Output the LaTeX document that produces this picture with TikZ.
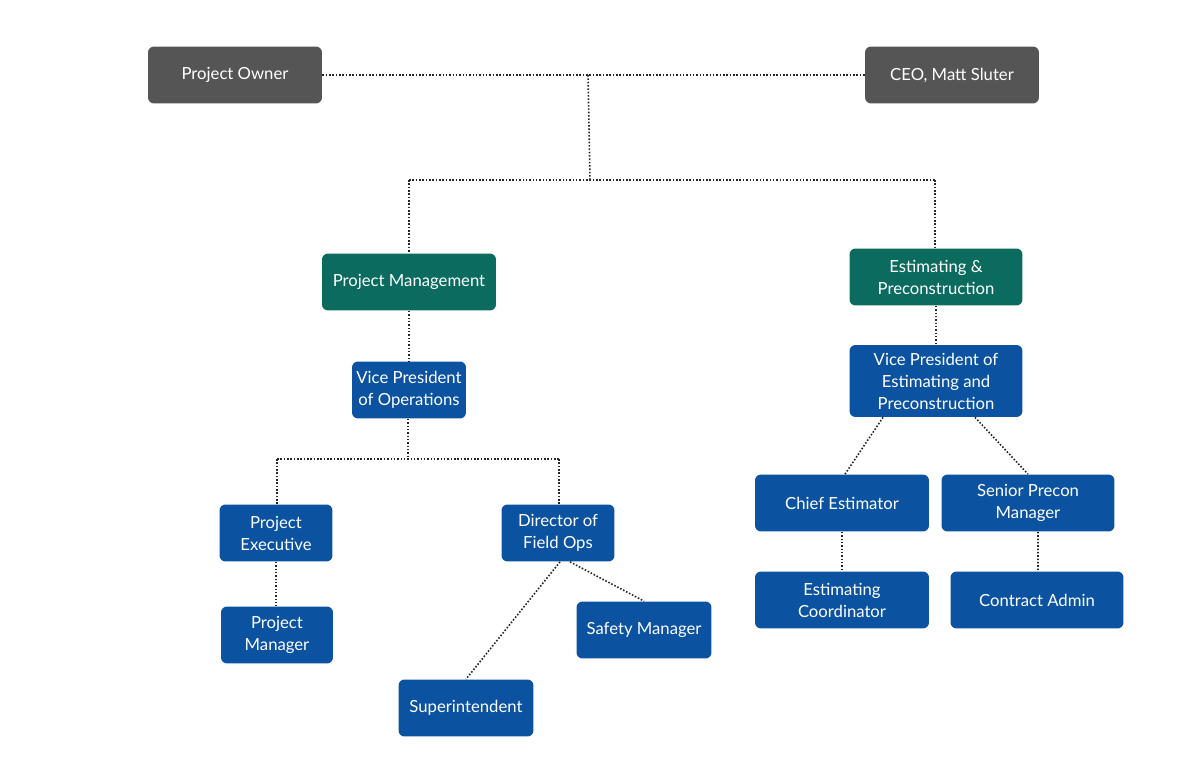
\documentclass[tikz,border=0pt]{standalone}
\usepackage{fontspec}
\setmainfont{Lato}
\definecolor{topgray}{HTML}{555555}
\definecolor{deptteal}{HTML}{0B6B5E}
\definecolor{roleblue}{HTML}{0B52A0}
\tikzset{
  box/.style={rounded corners=0.12cm, text=white, align=center,
    font=\fontsize{9.5}{12.5}\selectfont, inner sep=0pt},
  topbox/.style={box, fill=topgray},
  deptbox/.style={box, fill=deptteal},
  rolebox/.style={box, fill=roleblue},
  link/.style={densely dotted, line width=0.9pt, black!85}
}
\newcommand{\bx}[3]{minimum width=#1*0.02cm, minimum height=#2*0.02cm}
\begin{document}
\begin{tikzpicture}[x=0.02cm,y=-0.02cm]
\useasboundingbox (0,0) rectangle (1177,780);
% top level
\node[topbox, minimum width=3.48cm, minimum height=1.14cm] (owner) at (235,75) {Project Owner};
\node[topbox, minimum width=3.48cm, minimum height=1.14cm] (ceo) at (952,75) {CEO, Matt Sluter};
% departments
\node[deptbox, minimum width=3.48cm, minimum height=1.14cm] (pm) at (409,282) {Project Management};
\node[deptbox, minimum width=3.46cm, minimum height=1.14cm] (est) at (936,277) {Estimating \&\\Preconstruction};
% operations side
\node[rolebox, minimum width=2.28cm, minimum height=1.14cm] (vpops) at (409,390) {Vice President\\of Operations};
\node[rolebox, minimum width=2.26cm, minimum height=1.14cm] (pexec) at (276,533) {Project\\Executive};
\node[rolebox, minimum width=2.26cm, minimum height=1.14cm] (dfo) at (558,533) {Director of\\Field Ops};
\node[rolebox, minimum width=2.24cm, minimum height=1.14cm] (pmgr) at (277,635) {Project\\Manager};
\node[rolebox, minimum width=2.7cm, minimum height=1.14cm] (safety) at (644,630) {Safety Manager};
\node[rolebox, minimum width=2.7cm, minimum height=1.14cm] (super) at (466,708) {Superintendent};
% estimating side
\node[rolebox, minimum width=3.46cm, minimum height=1.44cm] (vpest) at (936,381) {Vice President of\\Estimating and\\Preconstruction};
\node[rolebox, minimum width=3.48cm, minimum height=1.14cm] (chief) at (842,503) {Chief Estimator};
\node[rolebox, minimum width=3.46cm, minimum height=1.14cm] (senior) at (1028,503) {Senior Precon\\Manager};
\node[rolebox, minimum width=3.48cm, minimum height=1.14cm] (coord) at (842,600) {Estimating\\Coordinator};
\node[rolebox, minimum width=3.46cm, minimum height=1.14cm] (contract) at (1037,600) {Contract Admin};
% junctions
\coordinate (top) at (588,75);
\coordinate (mid) at (590,180);
\coordinate (midl) at (409,180);
\coordinate (midr) at (935,180);
\coordinate (ops) at (408,459);
\coordinate (opsl) at (277,459);
\coordinate (opsr) at (559,459);
% links
\draw[link] (owner.east) -- (ceo.west);
\draw[link] (top) -- (mid);
\draw[link] (midl) -- (midr);
\draw[link] (midl) -- (pm.north);
\draw[link] (midr) -- (est.north -| midr);
\draw[link] (pm.south) -- (vpops.north);
\draw[link] (vpops.south -| ops) -- (ops);
\draw[link] (opsl) -- (opsr);
\draw[link] (opsl) -- (pexec.north -| opsl);
\draw[link] (opsr) -- (dfo.north -| opsr);
\draw[link] (pexec.south) -- (pmgr.north -| pexec.south);
\draw[link] ([xshift=0.04cm]dfo.south) -- (super.north);
\draw[link] ([xshift=0.24cm]dfo.south) -- (safety.north);
\draw[link] (est.south) -- (vpest.north);
\draw[link] ([xshift=-1.06cm]vpest.south) -- ([xshift=0.06cm]chief.north);
\draw[link] ([xshift=0.78cm]vpest.south) -- (senior.north);
\draw[link] (chief.south) -- (coord.north);
\draw[link] ([xshift=0.2cm]senior.south) -- ([xshift=0.02cm]contract.north);
\end{tikzpicture}
\end{document}
